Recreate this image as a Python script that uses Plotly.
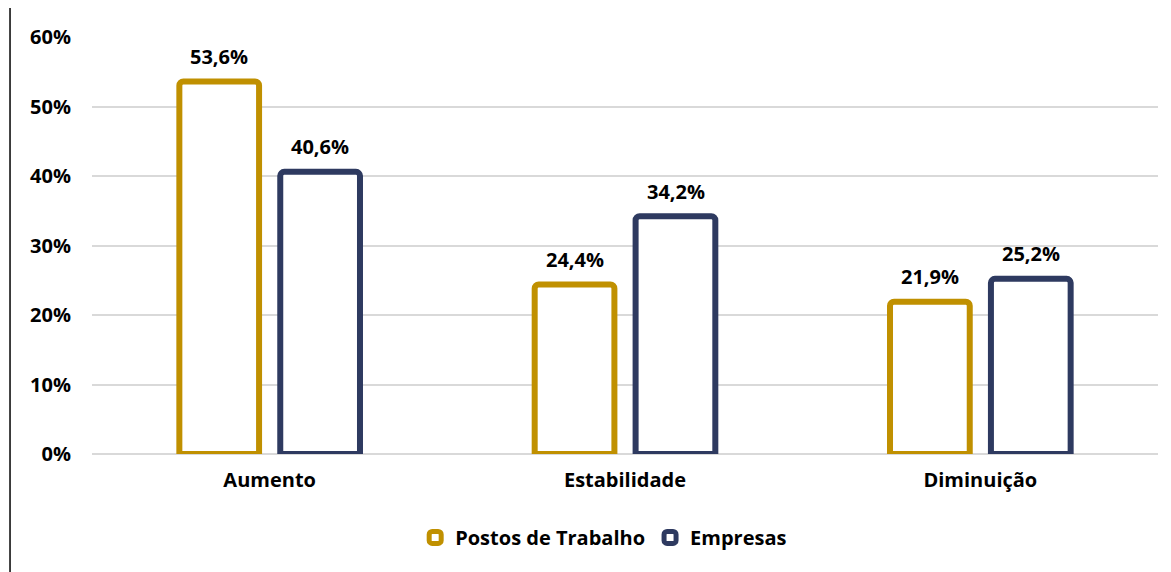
import plotly.graph_objects as go

categorias = ["Aumento", "Estabilidade", "Diminuição"]
postos = [0.536, 0.244, 0.219]
empresas = [0.406, 0.342, 0.252]
ticks = [0, 0.1, 0.2, 0.3, 0.4, 0.5, 0.6]
tick_text = ["0%", "10%", "20%", "30%", "40%", "50%", "60%"]

OURO = "#C09000"
AZUL = "#2E3A60"
FONTE = "Open Sans, sans-serif"
TXT = dict(family=FONTE, size=20, color="black", weight="bold")

fig = go.Figure()
series = [("Postos de Trabalho", postos, OURO, -50.5), ("Empresas", empresas, AZUL, 50.5)]
for nome, vals, cor, dx in series:
    fig.add_trace(go.Bar(
        x=categorias, y=vals, name=nome,
        marker=dict(color="white", line=dict(color=cor, width=6), cornerradius=4),
    ))
    # rótulos de dados acima das barras
    for c, v in zip(categorias, vals):
        fig.add_annotation(x=c, y=v, text=f"{v*100:.1f}%".replace(".", ","),
                           showarrow=False, xshift=dx, yshift=25, yanchor="middle",
                           font=TXT)

fig.update_layout(
    width=1171, height=572,
    margin=dict(l=84, r=21, t=29, b=126),
    paper_bgcolor="white", plot_bgcolor="white",
    barmode="group", bargap=0.432, bargroupgap=0.21,
    font=dict(family=FONTE, size=20, color="black"),
    showlegend=True,
    legend=dict(orientation="h", x=0.48, xanchor="center", y=-0.2, yanchor="middle",
                font=TXT, itemwidth=30, tracegroupgap=0),
    shapes=[dict(type="line", xref="paper", yref="paper",
                 x0=-0.0769, x1=-0.0769, y0=-0.35, y1=1.1,
                 line=dict(color="black", width=1.5))],
)
fig.update_xaxes(showgrid=False, showline=False, ticks="", ticklabelstandoff=12,
                 tickfont=TXT)
fig.update_yaxes(range=[0, 0.6], tickvals=ticks, ticktext=tick_text,
                 showgrid=True, gridcolor="#D9D9D9", gridwidth=1.5,
                 zeroline=True, zerolinecolor="#D9D9D9", zerolinewidth=1.5,
                 showline=False, ticks="", ticklabelstandoff=20,
                 tickfont=TXT)

fig.write_html("out.html")
